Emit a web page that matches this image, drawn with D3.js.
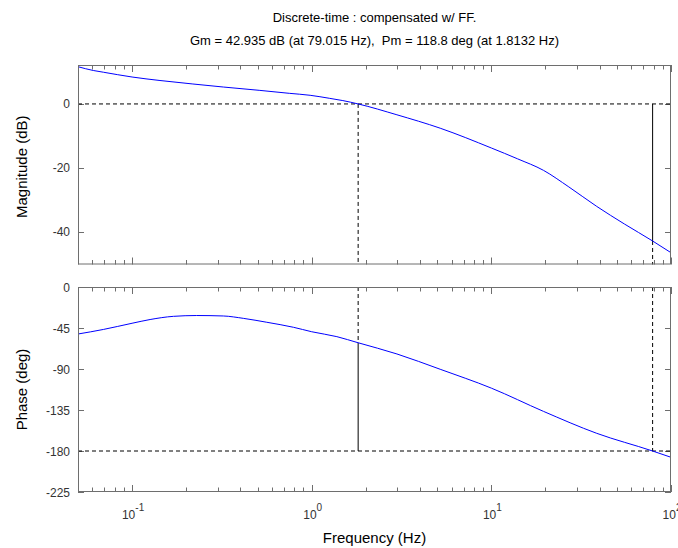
<!DOCTYPE html>
<html>
<head>
<meta charset="utf-8">
<script src="https://cdn.jsdelivr.net/npm/d3@7"></script>
<style>
  html, body { margin: 0; padding: 0; background: #fff; }
  svg { display: block; font-family: "Liberation Sans", Arial, sans-serif; }
  .pre { white-space: pre; }
</style>
</head>
<body>
<svg id="chart" width="678" height="548"></svg>
<script>
// ---- data ----
const titleLines = ["Discrete-time : compensated w/ FF.",
  "Gm = 42.935 dB (at 79.015 Hz),  Pm = 118.8 deg (at 1.8132 Hz)"];
const magFreq = [0.05, 0.0608, 0.0692, 0.1, 0.143, 0.218, 0.322, 0.51, 0.75, 0.98, 1.26, 1.49, 1.8132, 2.98, 5.19, 10, 14, 19.5, 27, 38.6, 55, 79.015, 100];
const magDb   = [11.67, 10.48, 9.94, 8.44, 7.34, 6.25, 5.3, 4.27, 3.33, 2.71, 1.75, 1.05, 0, -3.4, -7.6, -13.8, -17.2, -20.8, -26.0, -32.1, -37.6, -42.935, -46.6];
const phFreq = [0.05, 0.0692, 0.1, 0.126, 0.17, 0.229, 0.322, 0.416, 0.562, 0.791, 1.0, 1.38, 1.8132, 2.98, 5.19, 10, 19.5, 38.6, 79.015, 100];
const phDeg  = [-51.6, -46.6, -39.8, -35.7, -32.2, -31.3, -31.8, -34.4, -38.7, -44.2, -49.1, -54.5, -61.2, -73.5, -90.3, -111.0, -136.5, -160.6, -180.0, -186.9];
const magTicks = [0, -20, -40];
const phTicks = [0, -45, -90, -135, -180, -225];
const decades = [-1, 0, 1, 2];
const freqDomain = [0.05, 100];
const magDomain = [-50.3, 12.2];
const phDomain = [-225, 0];
const gm = {freq: 79.015, db: -42.935};
const pm = {freq: 1.8132, deg: -61.2};

// ---- layout ----
const svg = d3.select("#chart");
const L = 78, R = 671;
const top1 = 65, bot1 = 264.5;
const top2 = 287, bot2 = 492;
const axisColor = "#6e6e6e";

const x = d3.scaleLog().domain(freqDomain).range([L, R]);
const yMag = d3.scaleLinear().domain(magDomain).range([bot1, top1]);
const yPh = d3.scaleLinear().domain(phDomain).range([bot2, top2]);

// title
svg.append("text").attr("x", (L + R) / 2).attr("y", 22).attr("text-anchor", "middle")
  .attr("font-size", 13).attr("fill", "#000").attr("class", "pre").text(titleLines[0]);
svg.append("text").attr("x", (L + R) / 2).attr("y", 45).attr("text-anchor", "middle")
  .attr("font-size", 13).attr("fill", "#000").attr("class", "pre").text(titleLines[1]);

// minor/major tick values
const majorVals = decades.map(d => Math.pow(10, d)).filter(v => v >= freqDomain[0] && v <= freqDomain[1]);
const minorVals = [];
[-2, -1, 0, 1].forEach(d => {
  for (let k = 2; k <= 9; k++) {
    const v = k * Math.pow(10, d);
    if (v >= freqDomain[0] && v < freqDomain[1]) minorVals.push(v);
  }
});

function drawPanel(yScale, yT, yTop, yBot) {
  const g = svg.append("g");
  majorVals.forEach(v => {
    const px = Math.round(x(v)) + 0.5;
    g.append("line").attr("x1", px).attr("x2", px).attr("y1", yBot).attr("y2", yBot - 7).attr("stroke", axisColor);
    g.append("line").attr("x1", px).attr("x2", px).attr("y1", yTop).attr("y2", yTop + 7).attr("stroke", axisColor);
  });
  minorVals.forEach(v => {
    const px = Math.round(x(v)) + 0.5;
    g.append("line").attr("x1", px).attr("x2", px).attr("y1", yBot).attr("y2", yBot - 4.5).attr("stroke", axisColor);
    g.append("line").attr("x1", px).attr("x2", px).attr("y1", yTop).attr("y2", yTop + 4.5).attr("stroke", axisColor);
  });
  yT.forEach(v => {
    const py = Math.round(yScale(v)) + 0.5;
    g.append("line").attr("x1", L).attr("x2", L + 6).attr("y1", py).attr("y2", py).attr("stroke", axisColor);
    g.append("line").attr("x1", R).attr("x2", R - 6).attr("y1", py).attr("y2", py).attr("stroke", axisColor);
    g.append("text").attr("x", 70).attr("y", yScale(v) + 4.5).attr("text-anchor", "end")
      .attr("font-size", 12).attr("fill", "#333").text(v);
  });
  return g;
}

const g1 = drawPanel(yMag, magTicks, top1, bot1);
const g2 = drawPanel(yPh, phTicks, top2, bot2);

const dash = "4,3";
// magnitude panel reference lines
g1.append("line").attr("x1", L).attr("x2", R).attr("y1", yMag(0)).attr("y2", yMag(0))
  .attr("stroke", "#000").attr("stroke-dasharray", dash);
g1.append("line").attr("x1", x(pm.freq)).attr("x2", x(pm.freq)).attr("y1", yMag(0)).attr("y2", bot1)
  .attr("stroke", "#000").attr("stroke-dasharray", dash);
g1.append("line").attr("x1", x(gm.freq)).attr("x2", x(gm.freq)).attr("y1", yMag(0)).attr("y2", yMag(gm.db))
  .attr("stroke", "#000");
g1.append("line").attr("x1", x(gm.freq)).attr("x2", x(gm.freq)).attr("y1", yMag(gm.db)).attr("y2", bot1)
  .attr("stroke", "#000").attr("stroke-dasharray", dash);

// phase panel reference lines
g2.append("line").attr("x1", L).attr("x2", R).attr("y1", yPh(-180)).attr("y2", yPh(-180))
  .attr("stroke", "#000").attr("stroke-dasharray", dash);
g2.append("line").attr("x1", x(pm.freq)).attr("x2", x(pm.freq)).attr("y1", top2).attr("y2", yPh(pm.deg))
  .attr("stroke", "#000").attr("stroke-dasharray", dash);
g2.append("line").attr("x1", x(pm.freq)).attr("x2", x(pm.freq)).attr("y1", yPh(pm.deg)).attr("y2", yPh(-180))
  .attr("stroke", "#000");
g2.append("line").attr("x1", x(gm.freq)).attr("x2", x(gm.freq)).attr("y1", top2).attr("y2", yPh(-180))
  .attr("stroke", "#000").attr("stroke-dasharray", dash);

// curves
const magLine = d3.line().x((d, i) => x(magFreq[i])).y(d => yMag(d)).curve(d3.curveMonotoneX);
g1.append("path").attr("d", magLine(magDb)).attr("fill", "none").attr("stroke", "#0000ff").attr("stroke-width", 1);
const phLine = d3.line().x((d, i) => x(phFreq[i])).y(d => yPh(d)).curve(d3.curveMonotoneX);
g2.append("path").attr("d", phLine(phDeg)).attr("fill", "none").attr("stroke", "#0000ff").attr("stroke-width", 1);

// box outlines
[[top1, bot1], [top2, bot2]].forEach(([t, b]) => {
  svg.append("rect").attr("x", L + 0.5).attr("y", t + 0.5).attr("width", R - L - 1).attr("height", b - t - 1)
    .attr("fill", "none").attr("stroke", axisColor);
});

// x tick labels
decades.forEach(d => {
  const t = svg.append("text").attr("x", x(Math.pow(10, d)) + 1).attr("y", 519).attr("text-anchor", "middle")
    .attr("font-size", 12).attr("fill", "#333");
  t.append("tspan").text("10");
  t.append("tspan").attr("dy", -8).attr("font-size", 10).text(d);
});

// axis labels
svg.append("text").attr("x", (L + R) / 2).attr("y", 543).attr("text-anchor", "middle")
  .attr("font-size", 15).attr("fill", "#000").text("Frequency (Hz)");
svg.append("text").attr("transform", `translate(27,${(top1 + bot1) / 2 + 2}) rotate(-90)`)
  .attr("text-anchor", "middle").attr("font-size", 15).attr("fill", "#000").text("Magnitude (dB)");
svg.append("text").attr("transform", `translate(27,${(top2 + bot2) / 2}) rotate(-90)`)
  .attr("text-anchor", "middle").attr("font-size", 15).attr("fill", "#000").text("Phase (deg)");
</script>
</body>
</html>
